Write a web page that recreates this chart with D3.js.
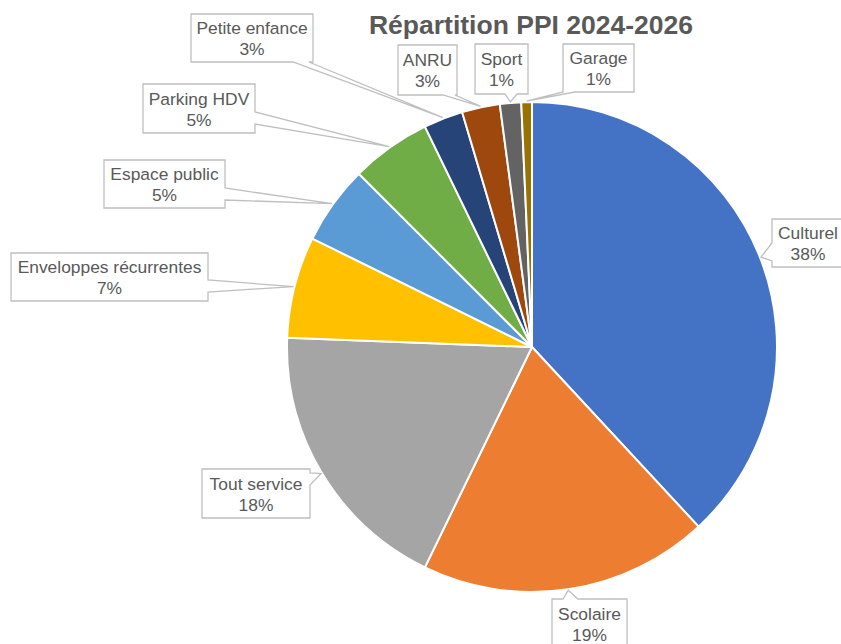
<!DOCTYPE html>
<html><head><meta charset="utf-8">
<script src="https://cdn.jsdelivr.net/npm/d3@7"></script>
<style>body{margin:0;background:#fff}svg{display:block}</style>
</head><body>
<svg id="c" width="841" height="644"></svg>
<script>
const categories = ["Culturel","Scolaire","Tout service","Enveloppes récurrentes","Espace public","Parking HDV","Petite enfance","ANRU","Sport","Garage"];
const values = [38.1,19.1,18.4,6.7,5.2,5.3,2.6,2.5,1.4,0.7];
const colors = ["#4472C4","#ED7D31","#A5A5A5","#FFC000","#5B9BD5","#70AD47","#264478","#9E480E","#636363","#997300"];
const title = "Répartition PPI 2024-2026";

// label box layout (x, y, w, h, wedge side, wedge base offsets along side)
const labelLayout = [
  {x:772,y:219,w:72,h:48,side:"left",a:24,b:42},
  {x:552,y:599,w:75,h:50,side:"top",a:11,b:26},
  {x:202,y:469,w:108,h:49,side:"right",a:4,b:16},
  {x:11,y:253,w:197,h:48,side:"right",a:27,b:39},
  {x:104,y:160,w:121,h:48,side:"right",a:28,b:40},
  {x:143,y:84,w:112,h:49,side:"right",a:28,b:40},
  {x:191,y:14,w:122,h:48,side:"bottom",a:102,b:118},
  {x:398,y:45,w:59,h:50,side:"bottom",a:45,b:57},
  {x:475,y:44,w:53,h:50,side:"bottom",a:30,b:42},
  {x:563,y:44,w:71,h:48,side:"bottom",a:0,b:12}
];

const svg = d3.select("#c");
const cx = 532, cy = 347, R = 245;
const total = d3.sum(values);
const data = categories.map((c,i)=>({cat:c,val:values[i],color:colors[i]}));
const pie = d3.pie().value(d=>d.val).sort(null);
const arcs = pie(data);
const arc = d3.arc().innerRadius(0).outerRadius(R);

svg.append("text").attr("x",531).attr("y",34).attr("text-anchor","middle")
  .attr("font-family","Liberation Sans, Arial, sans-serif").attr("font-weight","bold")
  .attr("font-size",26.5).attr("fill","#595959").text(title);

const g = svg.append("g").attr("transform",`translate(${cx},${cy})`);
g.selectAll("path").data(arcs).join("path")
  .attr("d",arc).attr("fill",d=>d.data.color)
  .attr("stroke","#fff").attr("stroke-width",2).attr("stroke-linejoin","round");

function callout(L, tx, ty){
  const {x,y,w,h,side,a,b} = L;
  const p = [];
  p.push([x,y]);
  if(side==="top"){ p.push([x+a,y],[tx,ty],[x+b,y]); }
  p.push([x+w,y]);
  if(side==="right"){ p.push([x+w,y+a],[tx,ty],[x+w,y+b]); }
  p.push([x+w,y+h]);
  if(side==="bottom"){ p.push([x+b,y+h],[tx,ty],[x+a,y+h]); }
  p.push([x,y+h]);
  if(side==="left"){ p.push([x,y+b],[tx,ty],[x,y+a]); }
  return "M" + p.map(q=>q.join(",")).join("L") + "Z";
}

const lg = svg.append("g");
arcs.forEach((d,i)=>{
  const L = labelLayout[i];
  const m = (d.startAngle+d.endAngle)/2;
  const tx = cx + (R+1)*Math.sin(m), ty = cy - (R+1)*Math.cos(m);
  lg.append("path").attr("d",callout(L,tx,ty))
    .attr("fill","#fff").attr("stroke","#BFBFBF").attr("stroke-width",1.3);
  const t = lg.append("text").attr("text-anchor","middle")
    .attr("font-family","Liberation Sans, Arial, sans-serif").attr("font-size",17.4)
    .attr("fill","#595959");
  const mx = L.x + L.w/2, my = L.y + L.h/2;
  t.append("tspan").attr("x",mx).attr("y",my-4).text(d.data.cat);
  t.append("tspan").attr("x",mx).attr("y",my+17).text(Math.round(d.data.val/total*100)+"%");
});
</script>
</body></html>
